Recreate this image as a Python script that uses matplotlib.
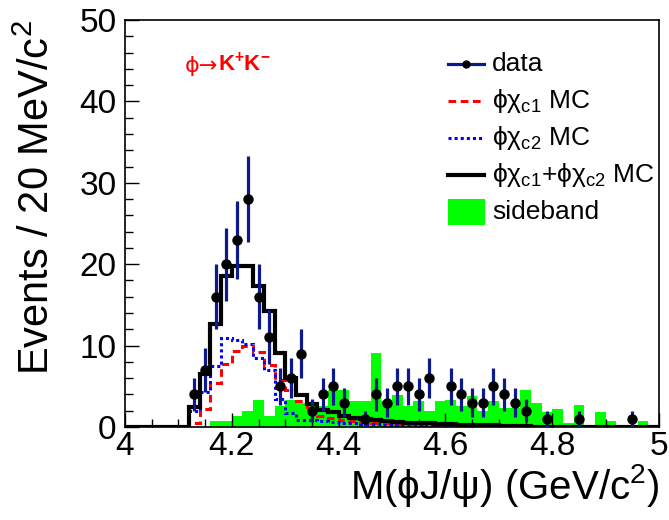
import numpy as np
import matplotlib
matplotlib.use("Agg")
import matplotlib.pyplot as plt
from matplotlib.patches import Rectangle
from matplotlib.ticker import MultipleLocator, FuncFormatter

plt.rcParams['font.family'] = ['Liberation Sans', 'DejaVu Sans']
plt.rcParams['mathtext.fontset'] = 'custom'
plt.rcParams['mathtext.rm'] = 'Liberation Sans'
plt.rcParams['mathtext.it'] = 'Liberation Sans:italic'
plt.rcParams['mathtext.bf'] = 'Liberation Sans:bold'
plt.rcParams['mathtext.default'] = 'regular'

# 20 MeV bins, 4.0 - 5.0 GeV/c^2
bin_edges = np.round(4.0 + 0.02 * np.arange(51), 2)

# data (only non-empty bins, bin centres)
data_x = [4.13, 4.15, 4.17, 4.19, 4.21, 4.23, 4.25, 4.27, 4.29, 4.31, 4.33,
          4.35, 4.37, 4.39, 4.41, 4.45, 4.47, 4.49, 4.51, 4.53, 4.55, 4.57,
          4.61, 4.63, 4.65, 4.67, 4.69, 4.71, 4.73, 4.75, 4.79, 4.85, 4.95]
data_n = [4, 7, 16, 20, 23, 28, 16, 11, 5, 6, 9,
          2, 4, 5, 3, 1, 4, 3, 5, 5, 4, 6,
          5, 4, 3, 3, 5, 4, 3, 2, 1, 1, 1]

# MC shapes, one value per bin (50 bins)
chic1_mc = [0, 0, 0, 0, 0, 0, 0.5, 2.2, 5.4, 7.8,
            9.3, 9.95, 9.2, 7.6, 5.8, 4.5, 3.2, 2.1, 1.4, 1.1,
            0.9, 0.75, 0.6, 0.5, 0.45, 0.4, 0.35, 0.3, 0.3, 0.25,
            0.2, 0.2, 0.15, 0.15, 0.1, 0.1, 0.05, 0.05, 0.05, 0.05,
            0, 0, 0, 0, 0, 0, 0, 0, 0, 0]
chic2_mc = [0, 0, 0, 0, 0, 0, 2.0, 4.3, 7.5, 10.9,
            10.7, 10.2, 8.5, 7.0, 3.5, 1.7, 0.9, 0.8, 0.7, 0.6,
            0.5, 0.45, 0.4, 0.35, 0.3, 0.25, 0.2, 0.2, 0.15, 0.15,
            0.1, 0.1, 0.05, 0.05, 0.05, 0, 0, 0, 0, 0,
            0, 0, 0, 0, 0, 0, 0, 0, 0, 0]
total_mc = [0, 0, 0, 0, 0, 0, 2.4, 6.5, 12.6, 18.6,
            19.8, 19.8, 17.3, 14.3, 9.1, 6.0, 3.9, 2.8, 2.1, 1.8,
            1.4, 1.1, 0.95, 0.85, 0.75, 0.65, 0.55, 0.5, 0.45, 0.4,
            0.35, 0.3, 0.25, 0.2, 0.2, 0.15, 0.1, 0.1, 0.05, 0.05,
            0, 0, 0, 0, 0, 0, 0, 0, 0, 0]
sideband = [0, 0, 0, 0, 0, 0, 0, 0, 0.7, 0.7,
            1.4, 2.0, 3.3, 1.3, 2.6, 3.3, 3.0, 2.6, 2.6, 4.55,
            4.55, 3.25, 3.25, 9.1, 3.25, 3.9, 2.6, 3.25, 1.95, 3.25,
            3.3, 2.6, 3.8, 1.95, 3.25, 2.3, 2.3, 4.5, 3.0, 1.9,
            2.2, 0.5, 2.7, 0, 1.8, 0.7, 0, 0, 0.7, 0]

navy = '#0c1a8e'

fig = plt.figure(figsize=(6.69, 5.2), dpi=100)
ax = fig.add_axes([125 / 669, 1 - 427 / 520, 534 / 669, 407 / 520])

ax.stairs(sideband, bin_edges, fill=True, color='#00ff00', lw=0, zorder=1)
ax.stairs(chic1_mc, bin_edges, color='red', lw=2.2, ls=(0, (2.5, 1.5)), zorder=2)
ax.stairs(chic2_mc, bin_edges, color='blue', lw=2.2, ls=(0, (1, 1)), zorder=2)
ax.stairs(total_mc, bin_edges, color='black', lw=3, zorder=3)
ax.errorbar(data_x, data_n, yerr=np.sqrt(data_n), fmt='o', color='black',
            ms=6.5, ecolor=navy, elinewidth=2.3, capsize=0, zorder=4)

ax.set_xlim(4, 5)
ax.set_ylim(0, 50)
ax.xaxis.set_major_locator(MultipleLocator(0.2))
ax.xaxis.set_minor_locator(MultipleLocator(0.05))
ax.yaxis.set_major_locator(MultipleLocator(10))
ax.yaxis.set_minor_locator(MultipleLocator(2))
ax.xaxis.set_major_formatter(FuncFormatter(lambda v, p: '%g' % v))
ax.tick_params(which='both', direction='in', top=False, right=False,
               labelsize=24, width=1)
ax.tick_params(which='major', length=10)
ax.tick_params(which='minor', length=5.5)
ax.tick_params(axis='x', pad=3)
ax.tick_params(axis='y', pad=6)
for s in ax.spines.values():
    s.set_linewidth(1.2)

ax.set_xlabel('M(ϕJ/ψ) (GeV/c$^{2}$)', fontsize=29, loc='right')
ax.xaxis.set_label_coords(1.0, -0.085)
ax.set_ylabel('Events / 20 MeV/c$^{2}$', fontsize=30, loc='top')
ax.yaxis.set_label_coords(-0.125, 1.0)

# decay mode label
t1 = ax.text(0.112, 0.887, 'ϕ→', color='red', fontsize=16,
             family=['DejaVu Sans'], transform=ax.transAxes,
             va='center', ha='left')
ax.annotate('K$^{+}$K$^{-}$', xy=(1, 0), xycoords=t1, va='bottom', ha='left',
            color='red', fontsize=16, fontweight='bold')

# legend
hx0, hx1, tx = 0.605, 0.672, 0.687
rows = [0.892, 0.801, 0.710, 0.619, 0.528]
labels = ['data', 'ϕχ$_{c1}$ MC', 'ϕχ$_{c2}$ MC',
          'ϕχ$_{c1}$+ϕχ$_{c2}$ MC', 'sideband']
tr = ax.transAxes
ax.plot([hx0, hx1], [rows[0]] * 2, color=navy, lw=2.3, transform=tr)
ax.plot([(hx0 + hx1) / 2], [rows[0]], 'o', color='black', ms=5, transform=tr)
ax.plot([hx0, hx1], [rows[1]] * 2, color='red', lw=2.2, ls=(0, (2.5, 1.5)), transform=tr)
ax.plot([hx0, hx1], [rows[2]] * 2, color='blue', lw=2.2, ls=(0, (1, 1)), transform=tr)
ax.plot([hx0, hx1], [rows[3]] * 2, color='black', lw=3, transform=tr)
ax.add_patch(Rectangle((hx0, rows[4] - 0.031), hx1 - hx0 + 0.002, 0.062,
                       color='#00ff00', lw=0, transform=tr))
for y, lab in zip(rows, labels):
    ax.text(tx, y, lab, fontsize=19, transform=tr, va='center', ha='left')

fig.savefig('out.png', dpi=100)
